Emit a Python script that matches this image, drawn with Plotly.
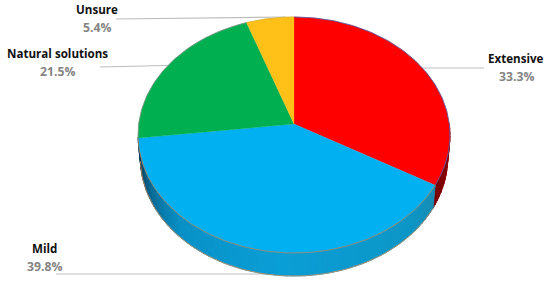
import math
import plotly.graph_objects as go

categories = ["Extensive", "Mild", "Natural solutions", "Unsure"]
shares = [33.3, 39.8, 21.5, 5.4]
slice_colors = ["#FF0000", "#00B0F0", "#00B050", "#FFC118"]

# Projection of the tilted disc (apex sits above the ellipse centre)
CX, CY, RX, RY, K = 294.0, 124.0, 155.3, 117.0, 0.0932
DEPTH, SHRINK = 23.0, 0.985


def top(theta_deg):
    t = math.radians(theta_deg)
    u, v = math.sin(t), math.cos(t)
    w = 1 + K * v
    return CX + RX * u / w, CY - RY * v / w


def bottom(theta_deg):
    x, y = top(theta_deg)
    return CX + (x - CX) * SHRINK, y + DEPTH


def mix(stops, f):
    for (f0, c0), (f1, c1) in zip(stops, stops[1:]):
        if f <= f1:
            r = (f - f0) / (f1 - f0) if f1 > f0 else 0
            return "rgb(%d,%d,%d)" % tuple(round(a + (b - a) * r) for a, b in zip(c0, c1))
    return "rgb(%d,%d,%d)" % stops[-1][1]


fig = go.Figure()


def poly(xs, ys, color, line=None, width=0.8):
    fig.add_trace(go.Scatter(x=xs, y=ys, mode="lines", fill="toself", fillcolor=color,
                             line=dict(color=line or color, width=width),
                             hoverinfo="skip", showlegend=False))


def stroke(xs, ys, color, width):
    fig.add_trace(go.Scatter(x=xs, y=ys, mode="lines", line=dict(color=color, width=width),
                             hoverinfo="skip", showlegend=False))


# leader lines run behind the pie
leaders = [((405, 68), (484, 68)), ((285, 274), (56, 274)), ((185, 65), (100, 67)), ((285, 17), (116, 19))]
for (x0, y0), (x1, y1) in leaders:
    stroke([x0, x1], [y0, y1], "#BDBDBD", 1.1)

# slice boundaries, clockwise from 12 o'clock
edges = [0.0]
for s in shares:
    edges.append(edges[-1] + s * 3.6 * 100 / sum(shares))

# side wall: red part, then blue part, shaded by position along the rim
red_stops = [(0.0, (205, 0, 0)), (0.5, (135, 0, 0)), (1.0, (120, 0, 0))]
blue_stops = [(0.0, (22, 140, 180)), (0.12, (12, 150, 198)), (0.45, (10, 158, 214)),
              (0.72, (8, 145, 198)), (0.86, (5, 105, 148)), (1.0, (0, 45, 70))]
for a0, a1, stops in [(edges[1] - 30, edges[1], red_stops), (edges[1], edges[2], blue_stops)]:
    n = max(4, int((a1 - a0) / 2))
    for i in range(n):
        b0 = a0 + (a1 - a0) * i / n
        b1 = a0 + (a1 - a0) * (i + 1) / n + 0.2
        p = [top(b0), top(b1), bottom(b1), bottom(b0)]
        poly([q[0] for q in p] + [p[0][0]], [q[1] for q in p] + [p[0][1]], mix(stops, (i + .5) / n))

# outer edge of the wall
arc = [edges[1] + (edges[2] - edges[1]) * i / 80 for i in range(81)]
stroke([bottom(a)[0] for a in arc], [bottom(a)[1] for a in arc], "#C98A5A", 0.8)

# top face
rim_colors = ["#4A5FA8", "#B5805A", "#7F8F85", "#D8B040"]
for i, color in enumerate(slice_colors):
    a0, a1 = edges[i], edges[i + 1]
    n = max(6, int(a1 - a0))
    rim = [top(a0 + (a1 - a0) * j / n) for j in range(n + 1)]
    poly([CX] + [q[0] for q in rim] + [CX], [CY] + [q[1] for q in rim] + [CY], color, width=0.3)
    stroke([q[0] for q in rim], [q[1] for q in rim], rim_colors[i], 0.8)

# labels
label_pos = [(516, 58), (44, 248), (57, 53), (97, 9)]
FONT = "Open Sans"
anns = []
for name, share, (x, y) in zip(categories, shares, label_pos):
    anns.append(dict(x=x, y=y, xref="x", yref="y", text=f"<b>{name}</b>", showarrow=False,
                     font=dict(family=FONT, size=11.6, color="#111111")))
    anns.append(dict(x=x, y=y + 18, xref="x", yref="y", text=f"<b>{share}%</b>", showarrow=False,
                     font=dict(family=FONT, size=12.2, color="#858585")))

fig.update_layout(width=550, height=281, margin=dict(l=0, r=0, t=0, b=0), showlegend=False,
                  paper_bgcolor="white", plot_bgcolor="white", annotations=anns,
                  xaxis=dict(range=[0, 550], visible=False, fixedrange=True),
                  yaxis=dict(range=[281, 0], visible=False, fixedrange=True))
fig.write_html("out.html", config={"displayModeBar": False},
               post_script="document.body.style.margin='0';")
